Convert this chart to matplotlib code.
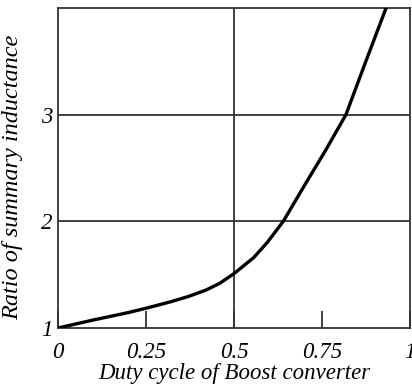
import matplotlib
matplotlib.use("Agg")
import matplotlib.pyplot as plt

duty = [0, 0.1, 0.2, 0.25, 0.319, 0.37, 0.42, 0.46, 0.5, 0.556, 0.594, 0.640, 0.699, 0.761, 0.818, 0.870, 0.932]
ratio = [1.0, 1.075, 1.145, 1.185, 1.245, 1.295, 1.355, 1.42, 1.51, 1.66, 1.80, 2.0, 2.33, 2.67, 3.0, 3.46, 4.0]
xticks = [0, 0.25, 0.5, 0.75, 1]
xticklabels = ["0", "0.25", "0.5", "0.75", "1"]
yticks = [1, 2, 3]
yticklabels = ["1", "2", "3"]

plt.rcParams['font.family'] = ['Liberation Serif', 'DejaVu Serif']
plt.rcParams['font.style'] = 'italic'

fig = plt.figure(figsize=(4.12, 3.87), dpi=100)
ax = fig.add_axes([58/412, 1-328/387, (410-58)/412, (328-8)/387])
ax.set_xlim(0, 1)
ax.set_ylim(1, 4)

for g in [0.5]:
    ax.axvline(g, color='#333333', lw=1.3, zorder=1)
for g in [2, 3]:
    ax.axhline(g, color='#333333', lw=1.3, zorder=1)

ax.plot(duty, ratio, color='black', lw=2.4, zorder=3, solid_joinstyle='round')

ax.set_xticks(xticks)
ax.set_xticklabels(xticklabels, fontsize=16.5, style='italic')
ax.set_yticks(yticks)
ax.set_yticklabels(yticklabels, fontsize=16.5, style='italic')
ax.tick_params(axis='x', direction='in', length=12, width=1.3, color='#333333', pad=10)
ax.tick_params(axis='y', length=0, pad=4)
for s in ax.spines.values():
    s.set_color('#333333')
    s.set_linewidth(1.3)

ax.set_xlabel("Duty cycle of Boost converter", fontsize=16.5, style='italic', labelpad=0)
ax.set_ylabel("Ratio of summary inductance", fontsize=17.5, style='italic')
ax.yaxis.set_label_coords(-0.098, 0.472)

fig.savefig("out.png", dpi=100)
